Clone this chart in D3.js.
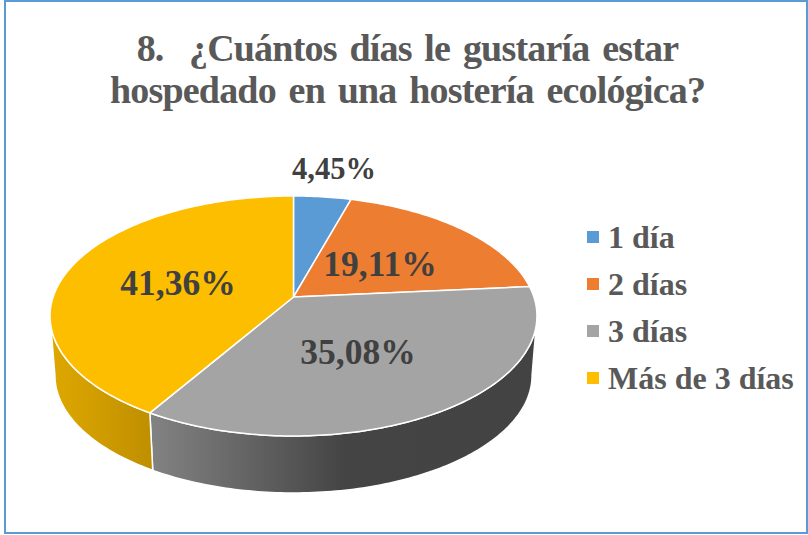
<!DOCTYPE html>
<html>
<head>
<meta charset="utf-8">
<script src="https://cdn.jsdelivr.net/npm/d3@7"></script>
<style>
body { margin: 0; background: #fff; }
text { font-family: "Liberation Serif", serif; font-weight: bold; }
</style>
</head>
<body>
<div id="chart"></div>
<script>
const w = 808;
const h = 535;

const titleLines = ["8.  ¿Cuántos días le gustaría estar", "hospedado en una hostería ecológica?"];
const categories = ["1 día", "2 días", "3 días", "Más de 3 días"];
const values = [4.45, 19.11, 35.08, 41.36];
const labels = ["4,45%", "19,11%", "35,08%", "41,36%"];
const colors = ["#5b9bd5", "#ec7d31", "#a4a4a4", "#fdbe00"];

//Perspective of the pie: vertex of the slices, radii and tilt
const cx = 293.5;
const cy = 297;
const radX = 240.4;
const radY = 117;
const tilt = 0.158;
//Lower rim of the pie is a little smaller and further down
const rimScale = 0.98;
const rimDrop = 59.8;

const svg = d3.select("#chart")
.append("svg")
.attr("width", w)
.attr("height", h)
.style("display", "block");

//Frame
svg.append("rect")
.attr("x", 5).attr("y", 1)
.attr("width", w - 6).attr("height", h - 3)
.attr("fill", "#fff")
.attr("stroke", "#5b9bd5")
.attr("stroke-width", 2);

//Title
svg.selectAll(".title")
.data(titleLines)
.enter().append("text")
.attr("class", "title")
.attr("x", 407.5)
.attr("y", (d, i) => 61 + i * 42)
.attr("text-anchor", "middle")
.attr("font-size", 38)
.attr("fill", "#595959")
.style("white-space", "pre")
.style("word-spacing", "4px")
.style("letter-spacing", "-0.8px")
.text(d => d);

const color = d3.scaleOrdinal().domain(categories).range(colors);
const arcs = d3.pie().sort(null).value(d => d)(values);

//Angle (clockwise from the top) to the screen, with the near side bigger
function project(a) {
    const u = Math.sin(a);
    const v = -Math.cos(a);
    const k = 1 - tilt * v;
    return [cx + radX * u / k, cy + radY * v / k];
}
function lower(p) {
    return [cx + rimScale * (p[0] - cx), cy + rimScale * (p[1] - cy) + rimDrop];
}
function rim(a0, a1) {
    const n = Math.ceil((a1 - a0) * 60);
    return d3.range(n + 1).map(i => project(a0 + (a1 - a0) * i / n));
}
const line = d3.line();

//Only the near side of the rim has a wall, these are its widest points
const frontFrom = Math.acos(-tilt);
const frontTo = 2 * Math.PI - frontFrom;

//Gradients of the side walls
const defs = svg.append("defs");
const wallStops = {
    2: [[152, "#828282"], [250, "#636363"], [345, "#444444"], [540, "#434343"]],
    3: [[50, "#dfa800"], [152, "#bf8f00"]]
};
Object.keys(wallStops).forEach(k => {
    const stops = wallStops[k];
    const x0 = stops[0][0];
    const x1 = stops[stops.length - 1][0];
    defs.append("linearGradient")
    .attr("id", "wall" + k)
    .attr("gradientUnits", "userSpaceOnUse")
    .attr("x1", x0).attr("x2", x1)
    .attr("y1", 0).attr("y2", 0)
    .selectAll("stop")
    .data(stops)
    .enter().append("stop")
    .attr("offset", d => (d[0] - x0) / (x1 - x0))
    .attr("stop-color", d => d[1]);
});

//Walls first, the top faces cover whatever is behind
svg.selectAll(".wall")
.data(arcs.filter(d => d.endAngle > frontFrom && d.startAngle < frontTo))
.enter().append("path")
.attr("class", "wall")
.attr("d", d => {
    const top = rim(Math.max(d.startAngle, frontFrom), Math.min(d.endAngle, frontTo));
    return line(top.concat(top.map(lower).reverse())) + "Z";
})
.attr("fill", d => `url(#wall${d.index})`)
.attr("stroke", "#fff")
.attr("stroke-width", 1.5)
.attr("stroke-linejoin", "round");

svg.selectAll(".slice")
.data(arcs)
.enter().append("path")
.attr("class", "slice")
.attr("d", d => line([[cx, cy]].concat(rim(d.startAngle, d.endAngle))) + "Z")
.attr("fill", (d, i) => color(categories[i]))
.attr("stroke", "#fff")
.attr("stroke-width", 1.5)
.attr("stroke-linejoin", "round");

//Data labels, placed by hand as in the original
const labelX = [334, 380, 358, 178];
const labelY = [179, 276, 364, 295];
const labelSize = [30.5, 35.5, 35.5, 35.5];
svg.selectAll(".label")
.data(labels)
.enter().append("text")
.attr("class", "label")
.attr("x", (d, i) => labelX[i])
.attr("y", (d, i) => labelY[i])
.attr("text-anchor", "middle")
.attr("font-size", (d, i) => labelSize[i])
.attr("fill", "#404040")
.text(d => d);

//Legend
const legendY = d3.scalePoint().domain(categories).range([237, 378]);
const legend = svg.selectAll(".legend")
.data(categories)
.enter().append("g")
.attr("class", "legend")
.attr("transform", d => `translate(587,${legendY(d)})`);
legend.append("rect")
.attr("y", -6)
.attr("width", 12)
.attr("height", 12)
.attr("fill", d => color(d));
legend.append("text")
.attr("x", 21)
.attr("y", 10.5)
.attr("font-size", 32)
.attr("fill", "#595959")
.text(d => d);
</script>
</body>
</html>
